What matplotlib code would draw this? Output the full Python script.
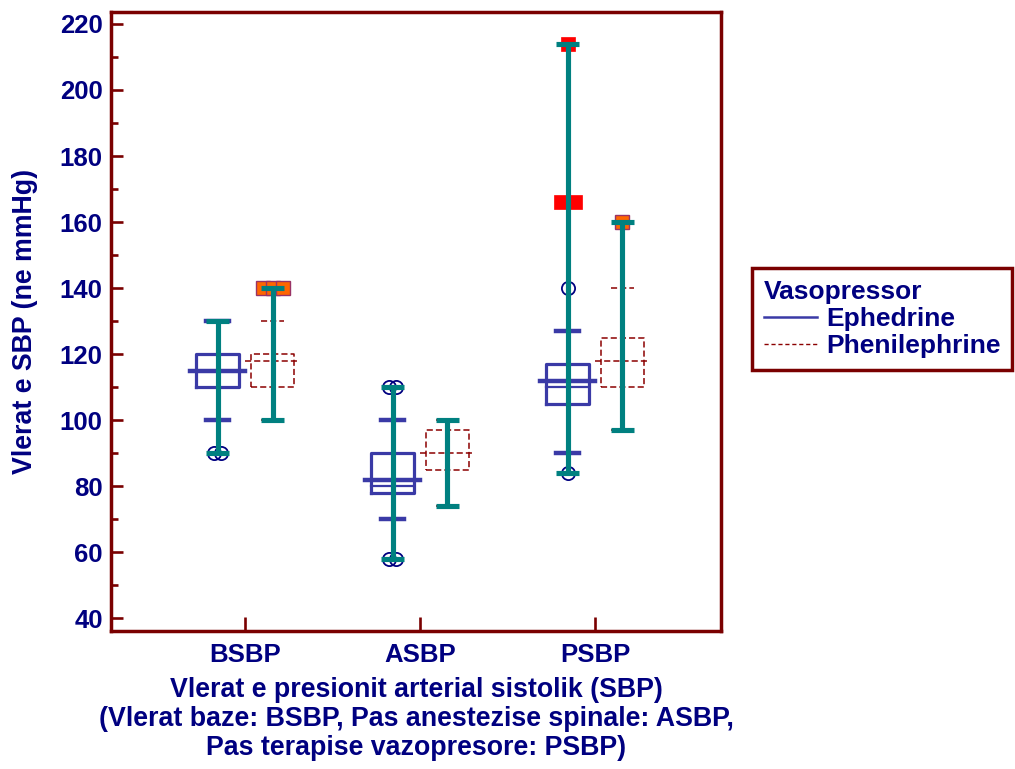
import numpy as np
import matplotlib.pyplot as plt
from matplotlib.lines import Line2D
from matplotlib.ticker import MultipleLocator

plt.rcParams['font.family'] = ['Liberation Sans', 'DejaVu Sans']

# SBP values per measurement stage
cats = ['BSBP', 'ASBP', 'PSBP']

# Ephedrine group
eph_q1 = [110, 78, 105]
eph_med = [115, 82, 112]
eph_q3 = [120, 90, 117]
eph_inner = [None, 80, 110]
eph_p10 = [100, 70, 90]
eph_p90 = [130, 100, 127]
eph_lo = [90, 58, 84]
eph_hi = [130, 110, 214]
eph_out = [[90, 90], [110, 110, 58, 58], [140, 84]]
eph_far = [[], [], [166, 166, 214]]

# Phenilephrine group
phen_q1 = [110, 85, 110]
phen_med = [118, 90, 118]
phen_q3 = [120, 97, 125]
phen_p10 = [100, 74, 97]
phen_p90 = [130, 100, 140]
phen_lo = [100, 74, 97]
phen_hi = [140, 100, 160]
phen_far = [[140, 140, 140], [], [160]]

navy = '#000080'
teal = '#008080'
frame_col = '#7a0000'
eph_col = '#3a3aa6'
phen_col = '#8b0000'
fs_tick = 18.5
fs_lab = 19.3
fs_leg = 19

fig = plt.figure(figsize=(10.15, 7.69), dpi=100)
ax = fig.add_axes([0.1094, 0.1795, 0.6009, 0.8049])

x = np.arange(1, len(cats) + 1)
off = 0.157
bw = 0.1225   # half box width
mw = 0.157    # half median width
tw = 0.065    # half tick width


def spread(vals, step):
    # place repeated values side by side
    xs = []
    for i, v in enumerate(vals):
        same = [j for j, w in enumerate(vals) if w == v]
        k = same.index(i)
        xs.append((k - (len(same) - 1) / 2) * step)
    return xs


def draw_group(xc, q1, med, q3, p10, p90, lo, hi, col, ls, lw, mlw):
    for i in range(len(xc)):
        c = xc[i]
        ax.plot([c - bw, c + bw, c + bw, c - bw, c - bw], [q1[i], q1[i], q3[i], q3[i], q1[i]],
                color=col, linestyle=ls, linewidth=lw, zorder=2)
        ax.plot([c - mw, c + mw], [med[i], med[i]], color=col, linestyle=ls, linewidth=mlw, zorder=2)
        ax.plot([c - tw, c + tw], [p10[i], p10[i]], color=col, linestyle=ls, linewidth=mlw, zorder=2)
        ax.plot([c - tw, c + tw], [p90[i], p90[i]], color=col, linestyle=ls, linewidth=mlw, zorder=2)
        # whisker on top
        ax.plot([c, c], [lo[i], hi[i]], color=teal, linewidth=3.7, zorder=5, solid_capstyle='butt')
        ax.plot([c - tw, c + tw], [lo[i], lo[i]], color=teal, linewidth=3.7, zorder=5, solid_capstyle='butt')
        ax.plot([c - tw, c + tw], [hi[i], hi[i]], color=teal, linewidth=3.7, zorder=5, solid_capstyle='butt')


xe = x - off
xp = x + off
draw_group(xe, eph_q1, eph_med, eph_q3, eph_p10, eph_p90, eph_lo, eph_hi, eph_col, '-', 2.3, 3.2)
draw_group(xp, phen_q1, phen_med, phen_q3, phen_p10, phen_p90, phen_lo, phen_hi, phen_col, (0, (4, 2)), 1.1, 1.1)

for i in range(len(cats)):
    if eph_inner[i] is not None:
        ax.plot([xe[i] - bw, xe[i] + bw], [eph_inner[i], eph_inner[i]], color=eph_col, linewidth=1.6, zorder=2)
    if eph_out[i]:
        dx = spread(eph_out[i], 0.037)
        ax.plot(xe[i] + np.array(dx), eph_out[i], 'o', ms=9.5, mfc='none', mec=navy, mew=1.3, zorder=3)
    if eph_far[i]:
        dx = spread(eph_far[i], 0.08)
        ax.plot(xe[i] + np.array(dx), eph_far[i], 's', ms=9.5, mfc='#ff0000', mec='#ff0000', mew=0.5, zorder=3)
    if phen_far[i]:
        dx = spread(phen_far[i], 0.057)
        ax.plot(xp[i] + np.array(dx), phen_far[i], 's', ms=9.5, mfc='#ff6600', mec='#993366', mew=1.0, zorder=3)

ax.set_xlim(0.234, 3.72)
ax.set_ylim(36.2, 223.6)
ax.set_xticks(x)
ax.set_xticklabels(cats)
ax.yaxis.set_major_locator(MultipleLocator(20))
ax.yaxis.set_minor_locator(MultipleLocator(10))

for s in ax.spines.values():
    s.set_color(frame_col)
    s.set_linewidth(2.5)
ax.tick_params(axis='y', which='major', direction='in', length=8.5, width=1.9, color=frame_col, pad=6,
               labelsize=fs_tick, labelcolor=navy)
ax.tick_params(axis='y', which='minor', direction='in', length=5, width=1.9, color=frame_col)
ax.tick_params(axis='x', which='major', direction='in', length=10, width=1.9, color=frame_col, pad=9,
               labelsize=fs_tick, labelcolor=navy)
for lab in ax.get_xticklabels() + ax.get_yticklabels():
    lab.set_fontweight('bold')

ax.set_ylabel('Vlerat e SBP (ne mmHg)', fontsize=fs_lab, fontweight='bold', color=navy)
ax.yaxis.set_label_coords(-0.12, 0.5)
ax.set_xlabel('Vlerat e presionit arterial sistolik (SBP)\n(Vlerat baze: BSBP, Pas anestezise spinale: ASBP,\nPas terapise vazopresore: PSBP)',
              fontsize=fs_lab, fontweight='bold', color=navy, linespacing=1.15)
ax.xaxis.set_label_coords(0.5, -0.074)

handles = [Line2D([], [], color=eph_col, linewidth=1.8),
           Line2D([], [], color=phen_col, linewidth=1.0, linestyle=(0, (3, 2)))]
leg = ax.legend(handles, ['Ephedrine', 'Phenilephrine'], title='Vasopressor', loc='upper left',
                bbox_to_anchor=(752 / 1015, 1 - 268 / 769), bbox_transform=fig.transFigure,
                borderaxespad=0, fancybox=False, framealpha=1, edgecolor=frame_col,
                prop={'size': fs_leg, 'weight': 'bold'}, labelcolor=navy, handlelength=2.0,
                handletextpad=0.35, labelspacing=0.12, borderpad=0.45, alignment='left')
leg.get_title().set_fontsize(fs_leg)
leg.get_title().set_fontweight('bold')
leg.get_title().set_color(navy)
leg.get_frame().set_linewidth(2.5)

fig.savefig('out.png', dpi=100)
